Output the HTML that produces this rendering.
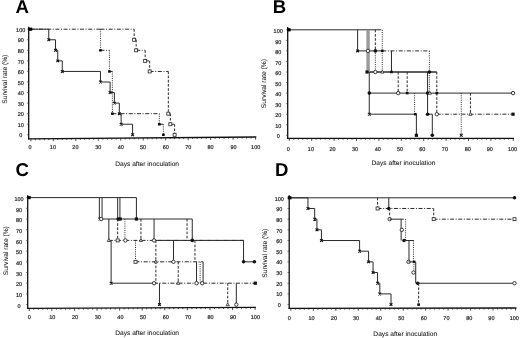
<!DOCTYPE html>
<html><head><meta charset="utf-8"><style>
html,body{margin:0;padding:0;background:#fff;}
svg{display:block;}
text{filter:grayscale(1);text-rendering:geometricPrecision;}
.R{stroke-width:0.14px;}
.t{font-family:"Liberation Sans",sans-serif;font-size:5.5px;fill:#1a1a1a;stroke:#1a1a1a;stroke-width:0.18px;}
.T{font-family:"Liberation Sans",sans-serif;font-size:6.65px;fill:#111;stroke:#111;stroke-width:0.05px;}
.L{font-family:"Liberation Sans",sans-serif;font-size:18.6px;font-weight:bold;fill:#000;}
</style></head><body>
<svg width="520" height="338" viewBox="0 0 520 338">
<rect width="520" height="338" fill="#fff"/>
<g>
<line x1="30.80" y1="29.20" x2="48.78" y2="29.20" stroke="#2a2a2a" stroke-width="1.0" />
<line x1="48.78" y1="29.20" x2="48.78" y2="39.76" stroke="#2a2a2a" stroke-width="1.0" />
<line x1="48.78" y1="39.76" x2="55.52" y2="39.76" stroke="#2a2a2a" stroke-width="1.0" />
<line x1="55.52" y1="39.76" x2="55.52" y2="50.32" stroke="#2a2a2a" stroke-width="1.0" />
<line x1="55.52" y1="50.32" x2="57.76" y2="50.32" stroke="#2a2a2a" stroke-width="1.0" />
<line x1="57.76" y1="50.32" x2="57.76" y2="60.88" stroke="#2a2a2a" stroke-width="1.0" />
<line x1="57.76" y1="60.88" x2="62.26" y2="60.88" stroke="#2a2a2a" stroke-width="1.0" />
<line x1="62.26" y1="60.88" x2="62.26" y2="71.44" stroke="#2a2a2a" stroke-width="1.0" />
<line x1="62.26" y1="71.44" x2="100.46" y2="71.44" stroke="#2a2a2a" stroke-width="1.0" />
<line x1="100.46" y1="71.44" x2="100.46" y2="82.00" stroke="#2a2a2a" stroke-width="1.0" />
<line x1="100.46" y1="82.00" x2="110.12" y2="82.00" stroke="#2a2a2a" stroke-width="1.0" />
<line x1="110.12" y1="82.00" x2="110.12" y2="92.56" stroke="#2a2a2a" stroke-width="1.0" />
<line x1="110.12" y1="92.56" x2="114.39" y2="92.56" stroke="#2a2a2a" stroke-width="1.0" />
<line x1="114.39" y1="92.56" x2="114.39" y2="103.12" stroke="#2a2a2a" stroke-width="1.0" />
<line x1="114.39" y1="103.12" x2="119.33" y2="103.12" stroke="#2a2a2a" stroke-width="1.0" />
<line x1="119.33" y1="103.12" x2="119.33" y2="113.68" stroke="#2a2a2a" stroke-width="1.0" />
<line x1="119.33" y1="113.68" x2="121.13" y2="113.68" stroke="#2a2a2a" stroke-width="1.0" />
<line x1="121.13" y1="113.68" x2="121.13" y2="124.24" stroke="#2a2a2a" stroke-width="1.0" />
<line x1="121.13" y1="124.24" x2="132.59" y2="124.24" stroke="#2a2a2a" stroke-width="1.0" />
<line x1="132.59" y1="124.24" x2="132.59" y2="134.80" stroke="#2a2a2a" stroke-width="1.0" />
<path d="M47.43 38.41L50.13 41.11M50.13 38.41L47.43 41.11" stroke="#111" stroke-width="1.1" fill="none"/>
<path d="M54.17 48.97L56.87 51.67M56.87 48.97L54.17 51.67" stroke="#111" stroke-width="1.1" fill="none"/>
<path d="M56.41 59.53L59.11 62.23M59.11 59.53L56.41 62.23" stroke="#111" stroke-width="1.1" fill="none"/>
<path d="M60.91 70.09L63.61 72.79M63.61 70.09L60.91 72.79" stroke="#111" stroke-width="1.1" fill="none"/>
<path d="M99.11 80.65L101.81 83.35M101.81 80.65L99.11 83.35" stroke="#111" stroke-width="1.1" fill="none"/>
<path d="M108.77 91.21L111.47 93.91M111.47 91.21L108.77 93.91" stroke="#111" stroke-width="1.1" fill="none"/>
<path d="M113.04 101.77L115.74 104.47M115.74 101.77L113.04 104.47" stroke="#111" stroke-width="1.1" fill="none"/>
<path d="M117.98 112.33L120.68 115.03M120.68 112.33L117.98 115.03" stroke="#111" stroke-width="1.1" fill="none"/>
<path d="M119.78 122.89L122.48 125.59M122.48 122.89L119.78 125.59" stroke="#111" stroke-width="1.1" fill="none"/>
<path d="M131.24 133.45L133.94 136.15M133.94 133.45L131.24 136.15" stroke="#111" stroke-width="1.1" fill="none"/>
<line x1="30.80" y1="29.20" x2="100.46" y2="29.20" stroke="#2a2a2a" stroke-width="1.0" stroke-dasharray="4 1.6 1 1.6"/>
<line x1="100.46" y1="29.20" x2="100.46" y2="50.32" stroke="#2a2a2a" stroke-width="1.0" stroke-dasharray="1 1.2"/>
<line x1="100.46" y1="50.32" x2="109.44" y2="50.32" stroke="#2a2a2a" stroke-width="1.0" stroke-dasharray="4 1.6 1 1.6"/>
<line x1="109.44" y1="50.32" x2="109.44" y2="71.44" stroke="#2a2a2a" stroke-width="1.0" stroke-dasharray="1 1.2"/>
<line x1="109.44" y1="71.44" x2="112.37" y2="71.44" stroke="#2a2a2a" stroke-width="1.0" stroke-dasharray="4 1.6 1 1.6"/>
<line x1="112.37" y1="71.44" x2="112.37" y2="113.68" stroke="#2a2a2a" stroke-width="1.0" stroke-dasharray="1 1.2"/>
<line x1="112.37" y1="113.68" x2="159.33" y2="113.68" stroke="#2a2a2a" stroke-width="1.0" stroke-dasharray="4 1.6 1 1.6"/>
<line x1="159.33" y1="113.68" x2="159.33" y2="124.24" stroke="#2a2a2a" stroke-width="1.0" stroke-dasharray="1 1.2"/>
<line x1="159.33" y1="124.24" x2="163.37" y2="124.24" stroke="#2a2a2a" stroke-width="1.0" stroke-dasharray="4 1.6 1 1.6"/>
<line x1="163.37" y1="124.24" x2="163.37" y2="134.80" stroke="#2a2a2a" stroke-width="1.0" stroke-dasharray="1 1.2"/>
<rect x="99.11" y="49.07" width="2.7" height="2.5" fill="#111"/>
<rect x="108.09" y="70.19" width="2.7" height="2.5" fill="#111"/>
<rect x="111.02" y="112.43" width="2.7" height="2.5" fill="#111"/>
<rect x="157.98" y="122.99" width="2.7" height="2.5" fill="#111"/>
<rect x="162.02" y="133.55" width="2.7" height="2.5" fill="#111"/>
<line x1="100.46" y1="29.20" x2="134.16" y2="29.20" stroke="#2a2a2a" stroke-width="1.0" stroke-dasharray="4 1.6 1 1.6"/>
<line x1="134.16" y1="29.20" x2="134.16" y2="39.76" stroke="#2a2a2a" stroke-width="1.0" stroke-dasharray="2.6 1.6"/>
<line x1="134.16" y1="39.76" x2="136.18" y2="39.76" stroke="#2a2a2a" stroke-width="1.0" stroke-dasharray="4 1.6 1 1.6"/>
<line x1="136.18" y1="39.76" x2="136.18" y2="50.32" stroke="#2a2a2a" stroke-width="1.0" stroke-dasharray="2.6 1.6"/>
<line x1="136.18" y1="50.32" x2="145.17" y2="50.32" stroke="#2a2a2a" stroke-width="1.0" stroke-dasharray="4 1.6 1 1.6"/>
<line x1="145.17" y1="50.32" x2="145.17" y2="60.88" stroke="#2a2a2a" stroke-width="1.0" stroke-dasharray="2.6 1.6"/>
<line x1="145.17" y1="60.88" x2="149.67" y2="60.88" stroke="#2a2a2a" stroke-width="1.0" stroke-dasharray="4 1.6 1 1.6"/>
<line x1="149.67" y1="60.88" x2="149.67" y2="71.44" stroke="#2a2a2a" stroke-width="1.0" stroke-dasharray="2.6 1.6"/>
<line x1="149.67" y1="71.44" x2="168.32" y2="71.44" stroke="#2a2a2a" stroke-width="1.0" stroke-dasharray="4 1.6 1 1.6"/>
<line x1="168.32" y1="71.44" x2="168.32" y2="113.68" stroke="#2a2a2a" stroke-width="1.0" stroke-dasharray="2.6 1.6"/>
<line x1="168.32" y1="113.68" x2="170.34" y2="113.68" stroke="#2a2a2a" stroke-width="1.0" stroke-dasharray="4 1.6 1 1.6"/>
<line x1="170.34" y1="113.68" x2="170.34" y2="124.24" stroke="#2a2a2a" stroke-width="1.0" stroke-dasharray="2.6 1.6"/>
<line x1="170.34" y1="124.24" x2="174.61" y2="124.24" stroke="#2a2a2a" stroke-width="1.0" stroke-dasharray="4 1.6 1 1.6"/>
<line x1="174.61" y1="124.24" x2="174.61" y2="134.80" stroke="#2a2a2a" stroke-width="1.0" stroke-dasharray="2.6 1.6"/>
<rect x="132.66" y="38.26" width="3" height="3" fill="#fff" stroke="#222" stroke-width="0.8"/>
<rect x="134.68" y="48.82" width="3" height="3" fill="#fff" stroke="#222" stroke-width="0.8"/>
<rect x="143.67" y="59.38" width="3" height="3" fill="#fff" stroke="#222" stroke-width="0.8"/>
<rect x="148.17" y="69.94" width="3" height="3" fill="#fff" stroke="#222" stroke-width="0.8"/>
<rect x="166.82" y="112.18" width="3" height="3" fill="#fff" stroke="#222" stroke-width="0.8"/>
<rect x="168.84" y="122.74" width="3" height="3" fill="#fff" stroke="#222" stroke-width="0.8"/>
<rect x="173.11" y="133.30" width="3" height="3" fill="#fff" stroke="#222" stroke-width="0.8"/>
<line x1="28.7" y1="26.8" x2="28.7" y2="139.4" stroke="#111" stroke-width="1.3"/>
<line x1="28.099999999999998" y1="138.8" x2="256.3" y2="137.0" stroke="#111" stroke-width="1.3"/>
<line x1="30.85" y1="138.78" x2="30.85" y2="141.38" stroke="#222" stroke-width="0.8"/>
<line x1="35.34" y1="138.75" x2="35.34" y2="140.25" stroke="#222" stroke-width="0.8"/>
<line x1="39.84" y1="138.71" x2="39.84" y2="140.21" stroke="#222" stroke-width="0.8"/>
<line x1="44.33" y1="138.68" x2="44.33" y2="140.18" stroke="#222" stroke-width="0.8"/>
<line x1="48.83" y1="138.64" x2="48.83" y2="140.14" stroke="#222" stroke-width="0.8"/>
<line x1="53.32" y1="138.61" x2="53.32" y2="141.21" stroke="#222" stroke-width="0.8"/>
<line x1="57.81" y1="138.57" x2="57.81" y2="140.07" stroke="#222" stroke-width="0.8"/>
<line x1="62.31" y1="138.53" x2="62.31" y2="140.03" stroke="#222" stroke-width="0.8"/>
<line x1="66.80" y1="138.50" x2="66.80" y2="140.00" stroke="#222" stroke-width="0.8"/>
<line x1="71.30" y1="138.46" x2="71.30" y2="139.96" stroke="#222" stroke-width="0.8"/>
<line x1="75.79" y1="138.43" x2="75.79" y2="141.03" stroke="#222" stroke-width="0.8"/>
<line x1="80.28" y1="138.39" x2="80.28" y2="139.89" stroke="#222" stroke-width="0.8"/>
<line x1="84.78" y1="138.36" x2="84.78" y2="139.86" stroke="#222" stroke-width="0.8"/>
<line x1="89.27" y1="138.32" x2="89.27" y2="139.82" stroke="#222" stroke-width="0.8"/>
<line x1="93.77" y1="138.29" x2="93.77" y2="139.79" stroke="#222" stroke-width="0.8"/>
<line x1="98.26" y1="138.25" x2="98.26" y2="140.85" stroke="#222" stroke-width="0.8"/>
<line x1="102.75" y1="138.21" x2="102.75" y2="139.71" stroke="#222" stroke-width="0.8"/>
<line x1="107.25" y1="138.18" x2="107.25" y2="139.68" stroke="#222" stroke-width="0.8"/>
<line x1="111.74" y1="138.14" x2="111.74" y2="139.64" stroke="#222" stroke-width="0.8"/>
<line x1="116.24" y1="138.11" x2="116.24" y2="139.61" stroke="#222" stroke-width="0.8"/>
<line x1="120.73" y1="138.07" x2="120.73" y2="140.67" stroke="#222" stroke-width="0.8"/>
<line x1="125.22" y1="138.04" x2="125.22" y2="139.54" stroke="#222" stroke-width="0.8"/>
<line x1="129.72" y1="138.00" x2="129.72" y2="139.50" stroke="#222" stroke-width="0.8"/>
<line x1="134.21" y1="137.97" x2="134.21" y2="139.47" stroke="#222" stroke-width="0.8"/>
<line x1="138.71" y1="137.93" x2="138.71" y2="139.43" stroke="#222" stroke-width="0.8"/>
<line x1="143.20" y1="137.89" x2="143.20" y2="140.49" stroke="#222" stroke-width="0.8"/>
<line x1="147.69" y1="137.86" x2="147.69" y2="139.36" stroke="#222" stroke-width="0.8"/>
<line x1="152.19" y1="137.82" x2="152.19" y2="139.32" stroke="#222" stroke-width="0.8"/>
<line x1="156.68" y1="137.79" x2="156.68" y2="139.29" stroke="#222" stroke-width="0.8"/>
<line x1="161.18" y1="137.75" x2="161.18" y2="139.25" stroke="#222" stroke-width="0.8"/>
<line x1="165.67" y1="137.72" x2="165.67" y2="140.32" stroke="#222" stroke-width="0.8"/>
<line x1="170.16" y1="137.68" x2="170.16" y2="139.18" stroke="#222" stroke-width="0.8"/>
<line x1="174.66" y1="137.65" x2="174.66" y2="139.15" stroke="#222" stroke-width="0.8"/>
<line x1="179.15" y1="137.61" x2="179.15" y2="139.11" stroke="#222" stroke-width="0.8"/>
<line x1="183.65" y1="137.57" x2="183.65" y2="139.07" stroke="#222" stroke-width="0.8"/>
<line x1="188.14" y1="137.54" x2="188.14" y2="140.14" stroke="#222" stroke-width="0.8"/>
<line x1="192.63" y1="137.50" x2="192.63" y2="139.00" stroke="#222" stroke-width="0.8"/>
<line x1="197.13" y1="137.47" x2="197.13" y2="138.97" stroke="#222" stroke-width="0.8"/>
<line x1="201.62" y1="137.43" x2="201.62" y2="138.93" stroke="#222" stroke-width="0.8"/>
<line x1="206.12" y1="137.40" x2="206.12" y2="138.90" stroke="#222" stroke-width="0.8"/>
<line x1="210.61" y1="137.36" x2="210.61" y2="139.96" stroke="#222" stroke-width="0.8"/>
<line x1="215.10" y1="137.33" x2="215.10" y2="138.83" stroke="#222" stroke-width="0.8"/>
<line x1="219.60" y1="137.29" x2="219.60" y2="138.79" stroke="#222" stroke-width="0.8"/>
<line x1="224.09" y1="137.25" x2="224.09" y2="138.75" stroke="#222" stroke-width="0.8"/>
<line x1="228.59" y1="137.22" x2="228.59" y2="138.72" stroke="#222" stroke-width="0.8"/>
<line x1="233.08" y1="137.18" x2="233.08" y2="139.78" stroke="#222" stroke-width="0.8"/>
<line x1="237.57" y1="137.15" x2="237.57" y2="138.65" stroke="#222" stroke-width="0.8"/>
<line x1="242.07" y1="137.11" x2="242.07" y2="138.61" stroke="#222" stroke-width="0.8"/>
<line x1="246.56" y1="137.08" x2="246.56" y2="138.58" stroke="#222" stroke-width="0.8"/>
<line x1="251.06" y1="137.04" x2="251.06" y2="138.54" stroke="#222" stroke-width="0.8"/>
<line x1="255.55" y1="137.01" x2="255.55" y2="139.61" stroke="#222" stroke-width="0.8"/>
<line x1="26.90" y1="134.80" x2="28.70" y2="134.80" stroke="#333" stroke-width="0.6"/>
<line x1="26.90" y1="124.24" x2="28.70" y2="124.24" stroke="#333" stroke-width="0.6"/>
<line x1="26.90" y1="113.68" x2="28.70" y2="113.68" stroke="#333" stroke-width="0.6"/>
<line x1="26.90" y1="103.12" x2="28.70" y2="103.12" stroke="#333" stroke-width="0.6"/>
<line x1="26.90" y1="92.56" x2="28.70" y2="92.56" stroke="#333" stroke-width="0.6"/>
<line x1="26.90" y1="82.00" x2="28.70" y2="82.00" stroke="#333" stroke-width="0.6"/>
<line x1="26.90" y1="71.44" x2="28.70" y2="71.44" stroke="#333" stroke-width="0.6"/>
<line x1="26.90" y1="60.88" x2="28.70" y2="60.88" stroke="#333" stroke-width="0.6"/>
<line x1="26.90" y1="50.32" x2="28.70" y2="50.32" stroke="#333" stroke-width="0.6"/>
<line x1="26.90" y1="39.76" x2="28.70" y2="39.76" stroke="#333" stroke-width="0.6"/>
<line x1="26.90" y1="29.20" x2="28.70" y2="29.20" stroke="#333" stroke-width="0.6"/>
<rect x="28.60" y="27.60" width="3.6" height="3.2" fill="#000"/>
</g>
<g>
<line x1="289.20" y1="29.80" x2="380.27" y2="29.80" stroke="#2a2a2a" stroke-width="1.0" />
<line x1="380.27" y1="29.80" x2="382.28" y2="29.80" stroke="#2a2a2a" stroke-width="1.0" stroke-dasharray="1 1.2"/>
<line x1="357.61" y1="50.90" x2="382.28" y2="50.90" stroke="#2a2a2a" stroke-width="1.0" />
<line x1="382.28" y1="50.90" x2="429.39" y2="50.90" stroke="#2a2a2a" stroke-width="1.0" stroke-dasharray="4 1.6 1 1.6"/>
<line x1="367.03" y1="72.00" x2="436.79" y2="72.00" stroke="#2a2a2a" stroke-width="1.3" />
<line x1="369.28" y1="93.10" x2="513.05" y2="93.10" stroke="#2a2a2a" stroke-width="1.0" />
<line x1="369.28" y1="114.20" x2="415.71" y2="114.20" stroke="#2a2a2a" stroke-width="1.0" />
<line x1="427.59" y1="114.20" x2="432.30" y2="114.20" stroke="#2a2a2a" stroke-width="1.0" />
<line x1="436.79" y1="114.20" x2="513.05" y2="114.20" stroke="#2a2a2a" stroke-width="1.0" stroke-dasharray="4 1.6 1 1.6"/>
<line x1="357.61" y1="29.80" x2="357.61" y2="50.90" stroke="#2a2a2a" stroke-width="1.0" />
<rect x="366.36" y="29.80" width="3.4" height="42.20" fill="#9a9a9a"/>
<line x1="369.28" y1="72.00" x2="369.28" y2="114.20" stroke="#2a2a2a" stroke-width="1.0" />
<line x1="375.33" y1="29.80" x2="375.33" y2="50.90" stroke="#2a2a2a" stroke-width="1.0" stroke-dasharray="2.6 1.6"/>
<line x1="375.33" y1="50.90" x2="375.33" y2="72.00" stroke="#2a2a2a" stroke-width="1.0" stroke-dasharray="1 1.2"/>
<line x1="382.28" y1="29.80" x2="382.28" y2="50.90" stroke="#2a2a2a" stroke-width="1.0" stroke-dasharray="1 1.2"/>
<line x1="382.28" y1="50.90" x2="382.28" y2="72.00" stroke="#2a2a2a" stroke-width="1.0" stroke-dasharray="1 1.2"/>
<line x1="391.48" y1="50.90" x2="391.48" y2="72.00" stroke="#2a2a2a" stroke-width="1.0" />
<line x1="398.21" y1="72.00" x2="398.21" y2="93.10" stroke="#2a2a2a" stroke-width="1.0" stroke-dasharray="2.6 1.6"/>
<line x1="407.18" y1="72.00" x2="407.18" y2="93.10" stroke="#2a2a2a" stroke-width="1.0" stroke-dasharray="2.6 1.6"/>
<line x1="414.58" y1="93.10" x2="414.58" y2="114.20" stroke="#2a2a2a" stroke-width="1.0" stroke-dasharray="1 1.2"/>
<line x1="416.38" y1="114.20" x2="416.38" y2="135.30" stroke="#2a2a2a" stroke-width="1.0" />
<line x1="427.59" y1="72.00" x2="427.59" y2="114.20" stroke="#2a2a2a" stroke-width="1.0" />
<line x1="429.39" y1="50.90" x2="429.39" y2="93.10" stroke="#2a2a2a" stroke-width="1.0" stroke-dasharray="1 1.2"/>
<line x1="432.30" y1="114.20" x2="432.30" y2="135.30" stroke="#2a2a2a" stroke-width="1.0" />
<line x1="436.79" y1="72.00" x2="436.79" y2="114.20" stroke="#2a2a2a" stroke-width="1.0" stroke-dasharray="2.6 1.6"/>
<line x1="461.24" y1="93.10" x2="461.24" y2="135.30" stroke="#2a2a2a" stroke-width="1.0" stroke-dasharray="1 1.2"/>
<line x1="470.43" y1="93.10" x2="470.43" y2="114.20" stroke="#2a2a2a" stroke-width="1.0" stroke-dasharray="2.6 1.6"/>
<path d="M356.26 49.55L358.96 52.25M358.96 49.55L356.26 52.25" stroke="#111" stroke-width="1.1" fill="none"/>
<circle cx="367.93" cy="50.90" r="1.7" fill="#fff" stroke="#222" stroke-width="0.9"/>
<circle cx="375.33" cy="50.90" r="1.8" fill="#111"/>
<rect x="380.93" y="49.65" width="2.7" height="2.5" fill="#111"/>
<rect x="365.43" y="70.40" width="3.2" height="3.2" fill="#111"/>
<circle cx="375.33" cy="72.00" r="1.7" fill="#fff" stroke="#222" stroke-width="0.9"/>
<path d="M382.28 70.20L383.88 73.10L380.68 73.10Z" fill="#fff" stroke="#222" stroke-width="0.8"/>
<rect x="390.13" y="70.75" width="2.7" height="2.5" fill="#111"/>
<circle cx="429.39" cy="72.00" r="1.8" fill="#111"/>
<circle cx="369.28" cy="93.10" r="1.8" fill="#111"/>
<circle cx="398.21" cy="93.10" r="1.7" fill="#fff" stroke="#222" stroke-width="0.9"/>
<rect x="405.83" y="91.85" width="2.7" height="2.5" fill="#111"/>
<circle cx="427.59" cy="93.10" r="1.8" fill="#111"/>
<path d="M429.84 91.30L431.44 94.20L428.24 94.20Z" fill="#fff" stroke="#222" stroke-width="0.8"/>
<rect x="435.44" y="91.85" width="2.7" height="2.5" fill="#111"/>
<circle cx="513.05" cy="93.10" r="1.7" fill="#fff" stroke="#222" stroke-width="0.9"/>
<path d="M367.93 112.85L370.63 115.55M370.63 112.85L367.93 115.55" stroke="#111" stroke-width="1.1" fill="none"/>
<rect x="413.91" y="112.95" width="2.7" height="2.5" fill="#111"/>
<circle cx="427.59" cy="114.20" r="1.8" fill="#111"/>
<circle cx="436.79" cy="114.20" r="1.7" fill="#fff" stroke="#222" stroke-width="0.9"/>
<path d="M470.43 112.40L472.03 115.30L468.83 115.30Z" fill="#fff" stroke="#222" stroke-width="0.8"/>
<rect x="511.45" y="112.60" width="3.2" height="3.2" fill="#111"/>
<rect x="414.78" y="133.70" width="3.2" height="3.2" fill="#111"/>
<circle cx="432.30" cy="135.30" r="1.8" fill="#111"/>
<path d="M459.89 133.95L462.59 136.65M462.59 133.95L459.89 136.65" stroke="#111" stroke-width="1.1" fill="none"/>
<line x1="287.7" y1="27.0" x2="287.7" y2="138.9" stroke="#111" stroke-width="1.3"/>
<line x1="287.09999999999997" y1="138.3" x2="514.0" y2="138.3" stroke="#111" stroke-width="1.3"/>
<line x1="289.30" y1="138.30" x2="289.30" y2="140.90" stroke="#222" stroke-width="0.8"/>
<line x1="293.78" y1="138.30" x2="293.78" y2="139.80" stroke="#222" stroke-width="0.8"/>
<line x1="298.26" y1="138.30" x2="298.26" y2="139.80" stroke="#222" stroke-width="0.8"/>
<line x1="302.74" y1="138.30" x2="302.74" y2="139.80" stroke="#222" stroke-width="0.8"/>
<line x1="307.22" y1="138.30" x2="307.22" y2="139.80" stroke="#222" stroke-width="0.8"/>
<line x1="311.70" y1="138.30" x2="311.70" y2="140.90" stroke="#222" stroke-width="0.8"/>
<line x1="316.18" y1="138.30" x2="316.18" y2="139.80" stroke="#222" stroke-width="0.8"/>
<line x1="320.66" y1="138.30" x2="320.66" y2="139.80" stroke="#222" stroke-width="0.8"/>
<line x1="325.14" y1="138.30" x2="325.14" y2="139.80" stroke="#222" stroke-width="0.8"/>
<line x1="329.62" y1="138.30" x2="329.62" y2="139.80" stroke="#222" stroke-width="0.8"/>
<line x1="334.10" y1="138.30" x2="334.10" y2="140.90" stroke="#222" stroke-width="0.8"/>
<line x1="338.58" y1="138.30" x2="338.58" y2="139.80" stroke="#222" stroke-width="0.8"/>
<line x1="343.06" y1="138.30" x2="343.06" y2="139.80" stroke="#222" stroke-width="0.8"/>
<line x1="347.54" y1="138.30" x2="347.54" y2="139.80" stroke="#222" stroke-width="0.8"/>
<line x1="352.02" y1="138.30" x2="352.02" y2="139.80" stroke="#222" stroke-width="0.8"/>
<line x1="356.50" y1="138.30" x2="356.50" y2="140.90" stroke="#222" stroke-width="0.8"/>
<line x1="360.98" y1="138.30" x2="360.98" y2="139.80" stroke="#222" stroke-width="0.8"/>
<line x1="365.46" y1="138.30" x2="365.46" y2="139.80" stroke="#222" stroke-width="0.8"/>
<line x1="369.94" y1="138.30" x2="369.94" y2="139.80" stroke="#222" stroke-width="0.8"/>
<line x1="374.42" y1="138.30" x2="374.42" y2="139.80" stroke="#222" stroke-width="0.8"/>
<line x1="378.90" y1="138.30" x2="378.90" y2="140.90" stroke="#222" stroke-width="0.8"/>
<line x1="383.38" y1="138.30" x2="383.38" y2="139.80" stroke="#222" stroke-width="0.8"/>
<line x1="387.86" y1="138.30" x2="387.86" y2="139.80" stroke="#222" stroke-width="0.8"/>
<line x1="392.34" y1="138.30" x2="392.34" y2="139.80" stroke="#222" stroke-width="0.8"/>
<line x1="396.82" y1="138.30" x2="396.82" y2="139.80" stroke="#222" stroke-width="0.8"/>
<line x1="401.30" y1="138.30" x2="401.30" y2="140.90" stroke="#222" stroke-width="0.8"/>
<line x1="405.78" y1="138.30" x2="405.78" y2="139.80" stroke="#222" stroke-width="0.8"/>
<line x1="410.26" y1="138.30" x2="410.26" y2="139.80" stroke="#222" stroke-width="0.8"/>
<line x1="414.74" y1="138.30" x2="414.74" y2="139.80" stroke="#222" stroke-width="0.8"/>
<line x1="419.22" y1="138.30" x2="419.22" y2="139.80" stroke="#222" stroke-width="0.8"/>
<line x1="423.70" y1="138.30" x2="423.70" y2="140.90" stroke="#222" stroke-width="0.8"/>
<line x1="428.18" y1="138.30" x2="428.18" y2="139.80" stroke="#222" stroke-width="0.8"/>
<line x1="432.66" y1="138.30" x2="432.66" y2="139.80" stroke="#222" stroke-width="0.8"/>
<line x1="437.14" y1="138.30" x2="437.14" y2="139.80" stroke="#222" stroke-width="0.8"/>
<line x1="441.62" y1="138.30" x2="441.62" y2="139.80" stroke="#222" stroke-width="0.8"/>
<line x1="446.10" y1="138.30" x2="446.10" y2="140.90" stroke="#222" stroke-width="0.8"/>
<line x1="450.58" y1="138.30" x2="450.58" y2="139.80" stroke="#222" stroke-width="0.8"/>
<line x1="455.06" y1="138.30" x2="455.06" y2="139.80" stroke="#222" stroke-width="0.8"/>
<line x1="459.54" y1="138.30" x2="459.54" y2="139.80" stroke="#222" stroke-width="0.8"/>
<line x1="464.02" y1="138.30" x2="464.02" y2="139.80" stroke="#222" stroke-width="0.8"/>
<line x1="468.50" y1="138.30" x2="468.50" y2="140.90" stroke="#222" stroke-width="0.8"/>
<line x1="472.98" y1="138.30" x2="472.98" y2="139.80" stroke="#222" stroke-width="0.8"/>
<line x1="477.46" y1="138.30" x2="477.46" y2="139.80" stroke="#222" stroke-width="0.8"/>
<line x1="481.94" y1="138.30" x2="481.94" y2="139.80" stroke="#222" stroke-width="0.8"/>
<line x1="486.42" y1="138.30" x2="486.42" y2="139.80" stroke="#222" stroke-width="0.8"/>
<line x1="490.90" y1="138.30" x2="490.90" y2="140.90" stroke="#222" stroke-width="0.8"/>
<line x1="495.38" y1="138.30" x2="495.38" y2="139.80" stroke="#222" stroke-width="0.8"/>
<line x1="499.86" y1="138.30" x2="499.86" y2="139.80" stroke="#222" stroke-width="0.8"/>
<line x1="504.34" y1="138.30" x2="504.34" y2="139.80" stroke="#222" stroke-width="0.8"/>
<line x1="508.82" y1="138.30" x2="508.82" y2="139.80" stroke="#222" stroke-width="0.8"/>
<line x1="513.30" y1="138.30" x2="513.30" y2="140.90" stroke="#222" stroke-width="0.8"/>
<line x1="285.90" y1="135.30" x2="287.70" y2="135.30" stroke="#333" stroke-width="0.6"/>
<line x1="285.90" y1="124.75" x2="287.70" y2="124.75" stroke="#333" stroke-width="0.6"/>
<line x1="285.90" y1="114.20" x2="287.70" y2="114.20" stroke="#333" stroke-width="0.6"/>
<line x1="285.90" y1="103.65" x2="287.70" y2="103.65" stroke="#333" stroke-width="0.6"/>
<line x1="285.90" y1="93.10" x2="287.70" y2="93.10" stroke="#333" stroke-width="0.6"/>
<line x1="285.90" y1="82.55" x2="287.70" y2="82.55" stroke="#333" stroke-width="0.6"/>
<line x1="285.90" y1="72.00" x2="287.70" y2="72.00" stroke="#333" stroke-width="0.6"/>
<line x1="285.90" y1="61.45" x2="287.70" y2="61.45" stroke="#333" stroke-width="0.6"/>
<line x1="285.90" y1="50.90" x2="287.70" y2="50.90" stroke="#333" stroke-width="0.6"/>
<line x1="285.90" y1="40.35" x2="287.70" y2="40.35" stroke="#333" stroke-width="0.6"/>
<line x1="285.90" y1="29.80" x2="287.70" y2="29.80" stroke="#333" stroke-width="0.6"/>
<rect x="287.00" y="28.20" width="3.6" height="3.2" fill="#000"/>
</g>
<g>
<line x1="29.30" y1="197.60" x2="136.42" y2="197.60" stroke="#2a2a2a" stroke-width="1.0" />
<line x1="99.36" y1="197.60" x2="99.36" y2="219.00" stroke="#2a2a2a" stroke-width="1.0" />
<line x1="102.07" y1="197.60" x2="102.07" y2="219.00" stroke="#2a2a2a" stroke-width="1.0" />
<line x1="117.67" y1="197.60" x2="117.67" y2="219.00" stroke="#2a2a2a" stroke-width="1.0" />
<line x1="119.93" y1="197.60" x2="119.93" y2="219.00" stroke="#2a2a2a" stroke-width="1.0" />
<line x1="136.42" y1="197.60" x2="136.42" y2="219.00" stroke="#2a2a2a" stroke-width="1.0" />
<line x1="99.36" y1="219.00" x2="192.25" y2="219.00" stroke="#2a2a2a" stroke-width="1.0" />
<line x1="108.85" y1="219.00" x2="108.85" y2="240.40" stroke="#2a2a2a" stroke-width="1.0" />
<line x1="111.11" y1="240.40" x2="111.11" y2="283.20" stroke="#2a2a2a" stroke-width="1.0" />
<line x1="117.67" y1="219.00" x2="117.67" y2="240.40" stroke="#2a2a2a" stroke-width="1.0" stroke-dasharray="2.6 1.6"/>
<line x1="124.90" y1="219.00" x2="124.90" y2="240.40" stroke="#2a2a2a" stroke-width="1.0" stroke-dasharray="1 1.2"/>
<line x1="140.94" y1="219.00" x2="140.94" y2="240.40" stroke="#2a2a2a" stroke-width="1.0" stroke-dasharray="2.6 1.6"/>
<line x1="154.05" y1="219.00" x2="154.05" y2="240.40" stroke="#2a2a2a" stroke-width="1.0" />
<line x1="187.05" y1="219.00" x2="187.05" y2="240.40" stroke="#2a2a2a" stroke-width="1.0" stroke-dasharray="2.6 1.6"/>
<line x1="192.25" y1="219.00" x2="192.25" y2="240.40" stroke="#2a2a2a" stroke-width="1.0" />
<line x1="108.85" y1="240.40" x2="243.55" y2="240.40" stroke="#2a2a2a" stroke-width="1.0" stroke-dasharray="4 1.6 1 1.6"/>
<line x1="154.05" y1="240.40" x2="243.55" y2="240.40" stroke="#2a2a2a" stroke-width="1.0" />
<line x1="135.52" y1="240.40" x2="135.52" y2="261.80" stroke="#2a2a2a" stroke-width="1.0" stroke-dasharray="1 1.2"/>
<line x1="155.86" y1="240.40" x2="155.86" y2="283.20" stroke="#2a2a2a" stroke-width="1.0" stroke-dasharray="2.6 1.6"/>
<line x1="173.49" y1="240.40" x2="173.49" y2="261.80" stroke="#2a2a2a" stroke-width="1.0" />
<line x1="194.96" y1="240.40" x2="194.96" y2="261.80" stroke="#2a2a2a" stroke-width="1.0" stroke-dasharray="2.6 1.6"/>
<line x1="243.55" y1="240.40" x2="243.55" y2="261.80" stroke="#2a2a2a" stroke-width="1.0" />
<line x1="135.52" y1="261.80" x2="203.09" y2="261.80" stroke="#2a2a2a" stroke-width="1.0" stroke-dasharray="4 1.6 1 1.6"/>
<line x1="243.55" y1="261.80" x2="254.40" y2="261.80" stroke="#2a2a2a" stroke-width="1.0" />
<line x1="178.23" y1="261.80" x2="178.23" y2="283.20" stroke="#2a2a2a" stroke-width="1.0" stroke-dasharray="2.6 1.6"/>
<line x1="196.54" y1="261.80" x2="196.54" y2="283.20" stroke="#2a2a2a" stroke-width="1.0" />
<line x1="200.16" y1="261.80" x2="200.16" y2="283.20" stroke="#2a2a2a" stroke-width="1.0" stroke-dasharray="1 1.2"/>
<line x1="203.09" y1="261.80" x2="203.09" y2="283.20" stroke="#2a2a2a" stroke-width="1.0" />
<line x1="111.11" y1="283.20" x2="154.05" y2="283.20" stroke="#2a2a2a" stroke-width="1.0" />
<line x1="154.05" y1="283.20" x2="255.30" y2="283.20" stroke="#2a2a2a" stroke-width="1.0" stroke-dasharray="4 1.6 1 1.6"/>
<line x1="159.48" y1="283.20" x2="159.48" y2="304.60" stroke="#2a2a2a" stroke-width="1.0" />
<line x1="227.73" y1="283.20" x2="227.73" y2="304.60" stroke="#2a2a2a" stroke-width="1.0" stroke-dasharray="2.6 1.6"/>
<line x1="236.32" y1="283.20" x2="236.32" y2="304.60" stroke="#2a2a2a" stroke-width="1.0" />
<path d="M98.46 217.65L101.16 220.35M101.16 217.65L98.46 220.35" stroke="#111" stroke-width="1.1" fill="none"/>
<circle cx="101.17" cy="219.00" r="1.7" fill="#fff" stroke="#222" stroke-width="0.9"/>
<circle cx="118.12" cy="219.00" r="1.8" fill="#111"/>
<rect x="118.55" y="217.40" width="3.2" height="3.2" fill="#111"/>
<rect x="134.82" y="217.40" width="3.2" height="3.2" fill="#111"/>
<path d="M108.85 238.60L110.45 241.50L107.25 241.50Z" fill="#fff" stroke="#222" stroke-width="0.8"/>
<rect x="116.17" y="238.90" width="3" height="3" fill="#fff" stroke="#222" stroke-width="0.8"/>
<circle cx="125.35" cy="240.40" r="1.7" fill="#fff" stroke="#222" stroke-width="0.9"/>
<path d="M140.94 238.60L142.54 241.50L139.34 241.50Z" fill="#fff" stroke="#222" stroke-width="0.8"/>
<circle cx="154.05" cy="240.40" r="1.7" fill="#fff" stroke="#222" stroke-width="0.9"/>
<circle cx="192.25" cy="240.40" r="1.8" fill="#111"/>
<rect x="134.02" y="260.30" width="3" height="3" fill="#fff" stroke="#222" stroke-width="0.8"/>
<path d="M155.86 260.00L157.46 262.90L154.26 262.90Z" fill="#fff" stroke="#222" stroke-width="0.8"/>
<circle cx="173.49" cy="261.80" r="1.7" fill="#fff" stroke="#222" stroke-width="0.9"/>
<circle cx="243.55" cy="261.80" r="1.8" fill="#111"/>
<circle cx="254.40" cy="261.80" r="1.8" fill="#111"/>
<path d="M109.76 281.85L112.46 284.55M112.46 281.85L109.76 284.55" stroke="#111" stroke-width="1.1" fill="none"/>
<circle cx="154.05" cy="283.20" r="1.7" fill="#fff" stroke="#222" stroke-width="0.9"/>
<path d="M178.23 281.40L179.83 284.30L176.63 284.30Z" fill="#fff" stroke="#222" stroke-width="0.8"/>
<circle cx="196.54" cy="283.20" r="1.7" fill="#fff" stroke="#222" stroke-width="0.9"/>
<circle cx="202.19" cy="283.20" r="1.7" fill="#fff" stroke="#222" stroke-width="0.9"/>
<rect x="253.70" y="281.60" width="3.2" height="3.2" fill="#111"/>
<path d="M158.13 303.25L160.83 305.95M160.83 303.25L158.13 305.95" stroke="#111" stroke-width="1.1" fill="none"/>
<path d="M227.73 302.80L229.33 305.70L226.13 305.70Z" fill="#fff" stroke="#222" stroke-width="0.8"/>
<circle cx="236.32" cy="304.60" r="1.7" fill="#fff" stroke="#222" stroke-width="0.9"/>
<line x1="27.7" y1="195.3" x2="27.7" y2="309.0" stroke="#111" stroke-width="1.3"/>
<line x1="27.099999999999998" y1="308.4" x2="256.0" y2="307.3" stroke="#111" stroke-width="1.3"/>
<line x1="29.30" y1="308.39" x2="29.30" y2="310.99" stroke="#222" stroke-width="0.8"/>
<line x1="33.82" y1="308.37" x2="33.82" y2="309.87" stroke="#222" stroke-width="0.8"/>
<line x1="38.33" y1="308.35" x2="38.33" y2="309.85" stroke="#222" stroke-width="0.8"/>
<line x1="42.85" y1="308.33" x2="42.85" y2="309.83" stroke="#222" stroke-width="0.8"/>
<line x1="47.36" y1="308.31" x2="47.36" y2="309.81" stroke="#222" stroke-width="0.8"/>
<line x1="51.88" y1="308.28" x2="51.88" y2="310.88" stroke="#222" stroke-width="0.8"/>
<line x1="56.40" y1="308.26" x2="56.40" y2="309.76" stroke="#222" stroke-width="0.8"/>
<line x1="60.91" y1="308.24" x2="60.91" y2="309.74" stroke="#222" stroke-width="0.8"/>
<line x1="65.43" y1="308.22" x2="65.43" y2="309.72" stroke="#222" stroke-width="0.8"/>
<line x1="69.94" y1="308.20" x2="69.94" y2="309.70" stroke="#222" stroke-width="0.8"/>
<line x1="74.46" y1="308.17" x2="74.46" y2="310.77" stroke="#222" stroke-width="0.8"/>
<line x1="78.98" y1="308.15" x2="78.98" y2="309.65" stroke="#222" stroke-width="0.8"/>
<line x1="83.49" y1="308.13" x2="83.49" y2="309.63" stroke="#222" stroke-width="0.8"/>
<line x1="88.01" y1="308.11" x2="88.01" y2="309.61" stroke="#222" stroke-width="0.8"/>
<line x1="92.52" y1="308.09" x2="92.52" y2="309.59" stroke="#222" stroke-width="0.8"/>
<line x1="97.04" y1="308.07" x2="97.04" y2="310.67" stroke="#222" stroke-width="0.8"/>
<line x1="101.56" y1="308.04" x2="101.56" y2="309.54" stroke="#222" stroke-width="0.8"/>
<line x1="106.07" y1="308.02" x2="106.07" y2="309.52" stroke="#222" stroke-width="0.8"/>
<line x1="110.59" y1="308.00" x2="110.59" y2="309.50" stroke="#222" stroke-width="0.8"/>
<line x1="115.10" y1="307.98" x2="115.10" y2="309.48" stroke="#222" stroke-width="0.8"/>
<line x1="119.62" y1="307.96" x2="119.62" y2="310.56" stroke="#222" stroke-width="0.8"/>
<line x1="124.14" y1="307.94" x2="124.14" y2="309.44" stroke="#222" stroke-width="0.8"/>
<line x1="128.65" y1="307.91" x2="128.65" y2="309.41" stroke="#222" stroke-width="0.8"/>
<line x1="133.17" y1="307.89" x2="133.17" y2="309.39" stroke="#222" stroke-width="0.8"/>
<line x1="137.68" y1="307.87" x2="137.68" y2="309.37" stroke="#222" stroke-width="0.8"/>
<line x1="142.20" y1="307.85" x2="142.20" y2="310.45" stroke="#222" stroke-width="0.8"/>
<line x1="146.72" y1="307.83" x2="146.72" y2="309.33" stroke="#222" stroke-width="0.8"/>
<line x1="151.23" y1="307.80" x2="151.23" y2="309.30" stroke="#222" stroke-width="0.8"/>
<line x1="155.75" y1="307.78" x2="155.75" y2="309.28" stroke="#222" stroke-width="0.8"/>
<line x1="160.26" y1="307.76" x2="160.26" y2="309.26" stroke="#222" stroke-width="0.8"/>
<line x1="164.78" y1="307.74" x2="164.78" y2="310.34" stroke="#222" stroke-width="0.8"/>
<line x1="169.30" y1="307.72" x2="169.30" y2="309.22" stroke="#222" stroke-width="0.8"/>
<line x1="173.81" y1="307.70" x2="173.81" y2="309.20" stroke="#222" stroke-width="0.8"/>
<line x1="178.33" y1="307.67" x2="178.33" y2="309.17" stroke="#222" stroke-width="0.8"/>
<line x1="182.84" y1="307.65" x2="182.84" y2="309.15" stroke="#222" stroke-width="0.8"/>
<line x1="187.36" y1="307.63" x2="187.36" y2="310.23" stroke="#222" stroke-width="0.8"/>
<line x1="191.88" y1="307.61" x2="191.88" y2="309.11" stroke="#222" stroke-width="0.8"/>
<line x1="196.39" y1="307.59" x2="196.39" y2="309.09" stroke="#222" stroke-width="0.8"/>
<line x1="200.91" y1="307.57" x2="200.91" y2="309.07" stroke="#222" stroke-width="0.8"/>
<line x1="205.42" y1="307.54" x2="205.42" y2="309.04" stroke="#222" stroke-width="0.8"/>
<line x1="209.94" y1="307.52" x2="209.94" y2="310.12" stroke="#222" stroke-width="0.8"/>
<line x1="214.46" y1="307.50" x2="214.46" y2="309.00" stroke="#222" stroke-width="0.8"/>
<line x1="218.97" y1="307.48" x2="218.97" y2="308.98" stroke="#222" stroke-width="0.8"/>
<line x1="223.49" y1="307.46" x2="223.49" y2="308.96" stroke="#222" stroke-width="0.8"/>
<line x1="228.00" y1="307.43" x2="228.00" y2="308.93" stroke="#222" stroke-width="0.8"/>
<line x1="232.52" y1="307.41" x2="232.52" y2="310.01" stroke="#222" stroke-width="0.8"/>
<line x1="237.04" y1="307.39" x2="237.04" y2="308.89" stroke="#222" stroke-width="0.8"/>
<line x1="241.55" y1="307.37" x2="241.55" y2="308.87" stroke="#222" stroke-width="0.8"/>
<line x1="246.07" y1="307.35" x2="246.07" y2="308.85" stroke="#222" stroke-width="0.8"/>
<line x1="250.58" y1="307.33" x2="250.58" y2="308.83" stroke="#222" stroke-width="0.8"/>
<line x1="255.10" y1="307.30" x2="255.10" y2="309.90" stroke="#222" stroke-width="0.8"/>
<line x1="25.90" y1="304.60" x2="27.70" y2="304.60" stroke="#333" stroke-width="0.6"/>
<line x1="25.90" y1="293.90" x2="27.70" y2="293.90" stroke="#333" stroke-width="0.6"/>
<line x1="25.90" y1="283.20" x2="27.70" y2="283.20" stroke="#333" stroke-width="0.6"/>
<line x1="25.90" y1="272.50" x2="27.70" y2="272.50" stroke="#333" stroke-width="0.6"/>
<line x1="25.90" y1="261.80" x2="27.70" y2="261.80" stroke="#333" stroke-width="0.6"/>
<line x1="25.90" y1="251.10" x2="27.70" y2="251.10" stroke="#333" stroke-width="0.6"/>
<line x1="25.90" y1="240.40" x2="27.70" y2="240.40" stroke="#333" stroke-width="0.6"/>
<line x1="25.90" y1="229.70" x2="27.70" y2="229.70" stroke="#333" stroke-width="0.6"/>
<line x1="25.90" y1="219.00" x2="27.70" y2="219.00" stroke="#333" stroke-width="0.6"/>
<line x1="25.90" y1="208.30" x2="27.70" y2="208.30" stroke="#333" stroke-width="0.6"/>
<line x1="25.90" y1="197.60" x2="27.70" y2="197.60" stroke="#333" stroke-width="0.6"/>
<rect x="27.10" y="196.00" width="3.6" height="3.2" fill="#000"/>
</g>
<g>
<line x1="290.00" y1="197.80" x2="514.50" y2="197.80" stroke="#2a2a2a" stroke-width="1.0" />
<circle cx="514.50" cy="197.80" r="1.8" fill="#111"/>
<line x1="290.00" y1="197.80" x2="307.96" y2="197.80" stroke="#2a2a2a" stroke-width="1.0" />
<line x1="307.96" y1="197.80" x2="307.96" y2="208.48" stroke="#2a2a2a" stroke-width="1.0" />
<line x1="307.96" y1="208.48" x2="314.69" y2="208.48" stroke="#2a2a2a" stroke-width="1.0" />
<line x1="314.69" y1="208.48" x2="314.69" y2="219.16" stroke="#2a2a2a" stroke-width="1.0" />
<line x1="314.69" y1="219.16" x2="316.94" y2="219.16" stroke="#2a2a2a" stroke-width="1.0" />
<line x1="316.94" y1="219.16" x2="316.94" y2="229.84" stroke="#2a2a2a" stroke-width="1.0" />
<line x1="316.94" y1="229.84" x2="321.43" y2="229.84" stroke="#2a2a2a" stroke-width="1.0" />
<line x1="321.43" y1="229.84" x2="321.43" y2="240.52" stroke="#2a2a2a" stroke-width="1.0" />
<line x1="321.43" y1="240.52" x2="359.60" y2="240.52" stroke="#2a2a2a" stroke-width="1.0" />
<line x1="359.60" y1="240.52" x2="359.60" y2="251.20" stroke="#2a2a2a" stroke-width="1.0" />
<line x1="359.60" y1="251.20" x2="368.57" y2="251.20" stroke="#2a2a2a" stroke-width="1.0" />
<line x1="368.57" y1="251.20" x2="368.57" y2="261.88" stroke="#2a2a2a" stroke-width="1.0" />
<line x1="368.57" y1="261.88" x2="373.06" y2="261.88" stroke="#2a2a2a" stroke-width="1.0" />
<line x1="373.06" y1="261.88" x2="373.06" y2="272.56" stroke="#2a2a2a" stroke-width="1.0" />
<line x1="373.06" y1="272.56" x2="377.56" y2="272.56" stroke="#2a2a2a" stroke-width="1.0" />
<line x1="377.56" y1="272.56" x2="377.56" y2="283.24" stroke="#2a2a2a" stroke-width="1.0" />
<line x1="377.56" y1="283.24" x2="379.80" y2="283.24" stroke="#2a2a2a" stroke-width="1.0" />
<line x1="379.80" y1="283.24" x2="379.80" y2="293.92" stroke="#2a2a2a" stroke-width="1.0" />
<line x1="379.80" y1="293.92" x2="391.02" y2="293.92" stroke="#2a2a2a" stroke-width="1.0" />
<line x1="391.02" y1="293.92" x2="391.02" y2="304.60" stroke="#2a2a2a" stroke-width="1.0" />
<path d="M306.61 207.13L309.31 209.83M309.31 207.13L306.61 209.83" stroke="#111" stroke-width="1.1" fill="none"/>
<path d="M313.34 217.81L316.05 220.51M316.05 217.81L313.34 220.51" stroke="#111" stroke-width="1.1" fill="none"/>
<path d="M315.59 228.49L318.29 231.19M318.29 228.49L315.59 231.19" stroke="#111" stroke-width="1.1" fill="none"/>
<path d="M320.08 239.17L322.78 241.87M322.78 239.17L320.08 241.87" stroke="#111" stroke-width="1.1" fill="none"/>
<path d="M358.25 249.85L360.95 252.55M360.95 249.85L358.25 252.55" stroke="#111" stroke-width="1.1" fill="none"/>
<path d="M367.22 260.53L369.93 263.23M369.93 260.53L367.22 263.23" stroke="#111" stroke-width="1.1" fill="none"/>
<path d="M371.71 271.21L374.42 273.91M374.42 271.21L371.71 273.91" stroke="#111" stroke-width="1.1" fill="none"/>
<path d="M376.20 281.89L378.91 284.59M378.91 281.89L376.20 284.59" stroke="#111" stroke-width="1.1" fill="none"/>
<path d="M378.45 292.57L381.15 295.27M381.15 292.57L378.45 295.27" stroke="#111" stroke-width="1.1" fill="none"/>
<path d="M389.67 303.25L392.38 305.95M392.38 303.25L389.67 305.95" stroke="#111" stroke-width="1.1" fill="none"/>
<line x1="377.56" y1="197.80" x2="377.56" y2="208.48" stroke="#2a2a2a" stroke-width="1.0" stroke-dasharray="2.6 1.6"/>
<line x1="377.56" y1="208.48" x2="433.68" y2="208.48" stroke="#2a2a2a" stroke-width="1.0" stroke-dasharray="4 1.6 1 1.6"/>
<line x1="433.68" y1="208.48" x2="433.68" y2="219.16" stroke="#2a2a2a" stroke-width="1.0" stroke-dasharray="2.6 1.6"/>
<line x1="433.68" y1="219.16" x2="514.50" y2="219.16" stroke="#2a2a2a" stroke-width="1.0" stroke-dasharray="4 1.6 1 1.6"/>
<rect x="376.06" y="206.98" width="3" height="3" fill="#fff" stroke="#222" stroke-width="0.8"/>
<rect x="432.18" y="217.66" width="3" height="3" fill="#fff" stroke="#222" stroke-width="0.8"/>
<rect x="513.00" y="217.66" width="3" height="3" fill="#fff" stroke="#222" stroke-width="0.8"/>
<line x1="388.78" y1="197.80" x2="388.78" y2="208.48" stroke="#2a2a2a" stroke-width="1.0" />
<circle cx="388.78" cy="208.48" r="1.8" fill="#111"/>
<line x1="389.68" y1="208.48" x2="389.68" y2="219.16" stroke="#2a2a2a" stroke-width="1.0" stroke-dasharray="2.6 1.6"/>
<circle cx="389.68" cy="219.16" r="1.7" fill="#fff" stroke="#222" stroke-width="0.9"/>
<line x1="389.68" y1="219.16" x2="401.13" y2="219.16" stroke="#2a2a2a" stroke-width="1.0" />
<line x1="401.13" y1="219.16" x2="405.62" y2="219.16" stroke="#2a2a2a" stroke-width="1.0" stroke-dasharray="2.6 1.6"/>
<line x1="401.13" y1="219.16" x2="401.13" y2="240.52" stroke="#2a2a2a" stroke-width="1.0" />
<line x1="405.62" y1="219.16" x2="405.62" y2="240.52" stroke="#2a2a2a" stroke-width="1.0" stroke-dasharray="1 1.2"/>
<circle cx="401.80" cy="229.84" r="1.7" fill="#fff" stroke="#222" stroke-width="0.9"/>
<circle cx="404.05" cy="240.52" r="1.8" fill="#111"/>
<line x1="404.05" y1="240.52" x2="413.92" y2="240.52" stroke="#2a2a2a" stroke-width="1.0" />
<line x1="408.99" y1="240.52" x2="408.99" y2="261.88" stroke="#2a2a2a" stroke-width="1.0" />
<line x1="413.48" y1="240.52" x2="413.48" y2="261.88" stroke="#2a2a2a" stroke-width="1.0" stroke-dasharray="1 1.2"/>
<circle cx="408.54" cy="261.88" r="1.7" fill="#fff" stroke="#222" stroke-width="0.9"/>
<line x1="408.54" y1="261.88" x2="414.60" y2="261.88" stroke="#2a2a2a" stroke-width="1.0" />
<rect x="412.80" y="260.63" width="2.7" height="2.5" fill="#111"/>
<line x1="415.72" y1="261.88" x2="415.72" y2="283.24" stroke="#2a2a2a" stroke-width="1.0" />
<line x1="413.92" y1="261.88" x2="413.92" y2="272.56" stroke="#2a2a2a" stroke-width="1.0" stroke-dasharray="1 1.2"/>
<circle cx="413.48" cy="272.56" r="1.7" fill="#fff" stroke="#222" stroke-width="0.9"/>
<circle cx="417.74" cy="283.24" r="1.8" fill="#111"/>
<line x1="417.74" y1="283.24" x2="514.50" y2="283.24" stroke="#2a2a2a" stroke-width="1.0" />
<circle cx="514.50" cy="283.24" r="1.7" fill="#fff" stroke="#222" stroke-width="0.9"/>
<line x1="418.64" y1="283.24" x2="418.64" y2="304.60" stroke="#2a2a2a" stroke-width="1.0" stroke-dasharray="2.6 1.6"/>
<rect x="417.29" y="303.35" width="2.7" height="2.5" fill="#111"/>
<line x1="289.2" y1="195.3" x2="289.2" y2="308.90000000000003" stroke="#111" stroke-width="1.3"/>
<line x1="288.59999999999997" y1="308.3" x2="516.5" y2="308.0" stroke="#111" stroke-width="1.3"/>
<line x1="290.90" y1="308.30" x2="290.90" y2="310.90" stroke="#222" stroke-width="0.8"/>
<line x1="295.39" y1="308.29" x2="295.39" y2="309.79" stroke="#222" stroke-width="0.8"/>
<line x1="299.88" y1="308.29" x2="299.88" y2="309.79" stroke="#222" stroke-width="0.8"/>
<line x1="304.38" y1="308.28" x2="304.38" y2="309.78" stroke="#222" stroke-width="0.8"/>
<line x1="308.87" y1="308.27" x2="308.87" y2="309.77" stroke="#222" stroke-width="0.8"/>
<line x1="313.36" y1="308.27" x2="313.36" y2="310.87" stroke="#222" stroke-width="0.8"/>
<line x1="317.85" y1="308.26" x2="317.85" y2="309.76" stroke="#222" stroke-width="0.8"/>
<line x1="322.34" y1="308.26" x2="322.34" y2="309.76" stroke="#222" stroke-width="0.8"/>
<line x1="326.84" y1="308.25" x2="326.84" y2="309.75" stroke="#222" stroke-width="0.8"/>
<line x1="331.33" y1="308.24" x2="331.33" y2="309.74" stroke="#222" stroke-width="0.8"/>
<line x1="335.82" y1="308.24" x2="335.82" y2="310.84" stroke="#222" stroke-width="0.8"/>
<line x1="340.31" y1="308.23" x2="340.31" y2="309.73" stroke="#222" stroke-width="0.8"/>
<line x1="344.80" y1="308.23" x2="344.80" y2="309.73" stroke="#222" stroke-width="0.8"/>
<line x1="349.30" y1="308.22" x2="349.30" y2="309.72" stroke="#222" stroke-width="0.8"/>
<line x1="353.79" y1="308.21" x2="353.79" y2="309.71" stroke="#222" stroke-width="0.8"/>
<line x1="358.28" y1="308.21" x2="358.28" y2="310.81" stroke="#222" stroke-width="0.8"/>
<line x1="362.77" y1="308.20" x2="362.77" y2="309.70" stroke="#222" stroke-width="0.8"/>
<line x1="367.26" y1="308.20" x2="367.26" y2="309.70" stroke="#222" stroke-width="0.8"/>
<line x1="371.76" y1="308.19" x2="371.76" y2="309.69" stroke="#222" stroke-width="0.8"/>
<line x1="376.25" y1="308.19" x2="376.25" y2="309.69" stroke="#222" stroke-width="0.8"/>
<line x1="380.74" y1="308.18" x2="380.74" y2="310.78" stroke="#222" stroke-width="0.8"/>
<line x1="385.23" y1="308.17" x2="385.23" y2="309.67" stroke="#222" stroke-width="0.8"/>
<line x1="389.72" y1="308.17" x2="389.72" y2="309.67" stroke="#222" stroke-width="0.8"/>
<line x1="394.22" y1="308.16" x2="394.22" y2="309.66" stroke="#222" stroke-width="0.8"/>
<line x1="398.71" y1="308.16" x2="398.71" y2="309.66" stroke="#222" stroke-width="0.8"/>
<line x1="403.20" y1="308.15" x2="403.20" y2="310.75" stroke="#222" stroke-width="0.8"/>
<line x1="407.69" y1="308.14" x2="407.69" y2="309.64" stroke="#222" stroke-width="0.8"/>
<line x1="412.18" y1="308.14" x2="412.18" y2="309.64" stroke="#222" stroke-width="0.8"/>
<line x1="416.68" y1="308.13" x2="416.68" y2="309.63" stroke="#222" stroke-width="0.8"/>
<line x1="421.17" y1="308.13" x2="421.17" y2="309.63" stroke="#222" stroke-width="0.8"/>
<line x1="425.66" y1="308.12" x2="425.66" y2="310.72" stroke="#222" stroke-width="0.8"/>
<line x1="430.15" y1="308.11" x2="430.15" y2="309.61" stroke="#222" stroke-width="0.8"/>
<line x1="434.64" y1="308.11" x2="434.64" y2="309.61" stroke="#222" stroke-width="0.8"/>
<line x1="439.14" y1="308.10" x2="439.14" y2="309.60" stroke="#222" stroke-width="0.8"/>
<line x1="443.63" y1="308.10" x2="443.63" y2="309.60" stroke="#222" stroke-width="0.8"/>
<line x1="448.12" y1="308.09" x2="448.12" y2="310.69" stroke="#222" stroke-width="0.8"/>
<line x1="452.61" y1="308.08" x2="452.61" y2="309.58" stroke="#222" stroke-width="0.8"/>
<line x1="457.10" y1="308.08" x2="457.10" y2="309.58" stroke="#222" stroke-width="0.8"/>
<line x1="461.60" y1="308.07" x2="461.60" y2="309.57" stroke="#222" stroke-width="0.8"/>
<line x1="466.09" y1="308.07" x2="466.09" y2="309.57" stroke="#222" stroke-width="0.8"/>
<line x1="470.58" y1="308.06" x2="470.58" y2="310.66" stroke="#222" stroke-width="0.8"/>
<line x1="475.07" y1="308.05" x2="475.07" y2="309.55" stroke="#222" stroke-width="0.8"/>
<line x1="479.56" y1="308.05" x2="479.56" y2="309.55" stroke="#222" stroke-width="0.8"/>
<line x1="484.06" y1="308.04" x2="484.06" y2="309.54" stroke="#222" stroke-width="0.8"/>
<line x1="488.55" y1="308.04" x2="488.55" y2="309.54" stroke="#222" stroke-width="0.8"/>
<line x1="493.04" y1="308.03" x2="493.04" y2="310.63" stroke="#222" stroke-width="0.8"/>
<line x1="497.53" y1="308.03" x2="497.53" y2="309.53" stroke="#222" stroke-width="0.8"/>
<line x1="502.02" y1="308.02" x2="502.02" y2="309.52" stroke="#222" stroke-width="0.8"/>
<line x1="506.52" y1="308.01" x2="506.52" y2="309.51" stroke="#222" stroke-width="0.8"/>
<line x1="511.01" y1="308.01" x2="511.01" y2="309.51" stroke="#222" stroke-width="0.8"/>
<line x1="515.50" y1="308.00" x2="515.50" y2="310.60" stroke="#222" stroke-width="0.8"/>
<line x1="287.40" y1="304.60" x2="289.20" y2="304.60" stroke="#333" stroke-width="0.6"/>
<line x1="287.40" y1="293.92" x2="289.20" y2="293.92" stroke="#333" stroke-width="0.6"/>
<line x1="287.40" y1="283.24" x2="289.20" y2="283.24" stroke="#333" stroke-width="0.6"/>
<line x1="287.40" y1="272.56" x2="289.20" y2="272.56" stroke="#333" stroke-width="0.6"/>
<line x1="287.40" y1="261.88" x2="289.20" y2="261.88" stroke="#333" stroke-width="0.6"/>
<line x1="287.40" y1="251.20" x2="289.20" y2="251.20" stroke="#333" stroke-width="0.6"/>
<line x1="287.40" y1="240.52" x2="289.20" y2="240.52" stroke="#333" stroke-width="0.6"/>
<line x1="287.40" y1="229.84" x2="289.20" y2="229.84" stroke="#333" stroke-width="0.6"/>
<line x1="287.40" y1="219.16" x2="289.20" y2="219.16" stroke="#333" stroke-width="0.6"/>
<line x1="287.40" y1="208.48" x2="289.20" y2="208.48" stroke="#333" stroke-width="0.6"/>
<line x1="287.40" y1="197.80" x2="289.20" y2="197.80" stroke="#333" stroke-width="0.6"/>
<rect x="287.80" y="196.20" width="3.6" height="3.2" fill="#000"/>
</g>
<text x="20.70" y="137.30" class="t" text-anchor="middle">0</text>
<text x="20.70" y="126.76" class="t" text-anchor="middle">10</text>
<text x="20.70" y="116.22" class="t" text-anchor="middle">20</text>
<text x="20.70" y="105.68" class="t" text-anchor="middle">30</text>
<text x="20.70" y="95.14" class="t" text-anchor="middle">40</text>
<text x="20.70" y="84.60" class="t" text-anchor="middle">50</text>
<text x="20.70" y="74.06" class="t" text-anchor="middle">60</text>
<text x="20.70" y="63.52" class="t" text-anchor="middle">70</text>
<text x="20.70" y="52.98" class="t" text-anchor="middle">80</text>
<text x="20.70" y="42.44" class="t" text-anchor="middle">90</text>
<text x="20.70" y="31.90" class="t" text-anchor="middle">100</text>
<text x="30.00" y="148.60" class="t" text-anchor="middle">0</text>
<text x="52.90" y="148.60" class="t" text-anchor="middle">10</text>
<text x="75.40" y="148.60" class="t" text-anchor="middle">20</text>
<text x="98.20" y="148.60" class="t" text-anchor="middle">30</text>
<text x="120.80" y="148.60" class="t" text-anchor="middle">40</text>
<text x="143.10" y="148.60" class="t" text-anchor="middle">50</text>
<text x="165.70" y="148.60" class="t" text-anchor="middle">60</text>
<text x="188.20" y="148.60" class="t" text-anchor="middle">70</text>
<text x="210.60" y="148.60" class="t" text-anchor="middle">80</text>
<text x="233.50" y="148.60" class="t" text-anchor="middle">90</text>
<text x="255.70" y="148.60" class="t" text-anchor="middle">100</text>
<text x="15.6" y="13.4" class="L">A</text>
<text x="0" y="0" class="T R" text-anchor="middle" transform="translate(7.1 79.2) rotate(-90)">Survival rate (%)</text>
<text x="147.1" y="165.8" class="T" text-anchor="middle">Days after inoculation</text>
<text x="278.20" y="138.10" class="t" text-anchor="middle">0</text>
<text x="278.20" y="127.60" class="t" text-anchor="middle">10</text>
<text x="278.20" y="117.10" class="t" text-anchor="middle">20</text>
<text x="278.20" y="106.60" class="t" text-anchor="middle">30</text>
<text x="278.20" y="96.10" class="t" text-anchor="middle">40</text>
<text x="278.20" y="85.60" class="t" text-anchor="middle">50</text>
<text x="278.20" y="75.10" class="t" text-anchor="middle">60</text>
<text x="278.20" y="64.60" class="t" text-anchor="middle">70</text>
<text x="278.20" y="54.10" class="t" text-anchor="middle">80</text>
<text x="278.20" y="43.60" class="t" text-anchor="middle">90</text>
<text x="278.20" y="33.10" class="t" text-anchor="middle">100</text>
<text x="288.20" y="150.70" class="t" text-anchor="middle">0</text>
<text x="310.90" y="150.70" class="t" text-anchor="middle">10</text>
<text x="332.60" y="150.70" class="t" text-anchor="middle">20</text>
<text x="355.10" y="150.70" class="t" text-anchor="middle">30</text>
<text x="377.70" y="150.70" class="t" text-anchor="middle">40</text>
<text x="400.00" y="150.70" class="t" text-anchor="middle">50</text>
<text x="422.30" y="150.70" class="t" text-anchor="middle">60</text>
<text x="444.90" y="150.70" class="t" text-anchor="middle">70</text>
<text x="467.70" y="150.70" class="t" text-anchor="middle">80</text>
<text x="489.80" y="150.70" class="t" text-anchor="middle">90</text>
<text x="512.60" y="150.70" class="t" text-anchor="middle">100</text>
<text x="272.8" y="13.4" class="L">B</text>
<text x="0" y="0" class="T R" text-anchor="middle" transform="translate(265.5 83.6) rotate(-90)">Survival rate (%)</text>
<text x="403.4" y="165.4" class="T" text-anchor="middle">Days after inoculation</text>
<text x="19.00" y="307.50" class="t" text-anchor="middle">0</text>
<text x="19.00" y="296.84" class="t" text-anchor="middle">10</text>
<text x="19.00" y="286.18" class="t" text-anchor="middle">20</text>
<text x="19.00" y="275.52" class="t" text-anchor="middle">30</text>
<text x="19.00" y="264.86" class="t" text-anchor="middle">40</text>
<text x="19.00" y="254.20" class="t" text-anchor="middle">50</text>
<text x="19.00" y="243.54" class="t" text-anchor="middle">60</text>
<text x="19.00" y="232.88" class="t" text-anchor="middle">70</text>
<text x="19.00" y="222.22" class="t" text-anchor="middle">80</text>
<text x="19.00" y="211.56" class="t" text-anchor="middle">90</text>
<text x="19.00" y="200.90" class="t" text-anchor="middle">100</text>
<text x="29.20" y="318.60" class="t" text-anchor="middle">0</text>
<text x="52.30" y="318.60" class="t" text-anchor="middle">10</text>
<text x="75.10" y="318.60" class="t" text-anchor="middle">20</text>
<text x="97.80" y="318.60" class="t" text-anchor="middle">30</text>
<text x="120.40" y="318.60" class="t" text-anchor="middle">40</text>
<text x="143.00" y="318.60" class="t" text-anchor="middle">50</text>
<text x="165.80" y="318.60" class="t" text-anchor="middle">60</text>
<text x="188.10" y="318.60" class="t" text-anchor="middle">70</text>
<text x="210.60" y="318.60" class="t" text-anchor="middle">80</text>
<text x="233.00" y="318.60" class="t" text-anchor="middle">90</text>
<text x="255.40" y="318.60" class="t" text-anchor="middle">100</text>
<text x="15.5" y="176.4" class="L">C</text>
<text x="0" y="0" class="T R" text-anchor="middle" transform="translate(7.5 250.7) rotate(-90)">Survival rate (%)</text>
<text x="147.1" y="335.0" class="T" text-anchor="middle">Days after inoculation</text>
<text x="279.30" y="306.70" class="t" text-anchor="middle">0</text>
<text x="279.30" y="296.10" class="t" text-anchor="middle">10</text>
<text x="279.30" y="285.50" class="t" text-anchor="middle">20</text>
<text x="279.30" y="274.90" class="t" text-anchor="middle">30</text>
<text x="279.30" y="264.30" class="t" text-anchor="middle">40</text>
<text x="279.30" y="253.70" class="t" text-anchor="middle">50</text>
<text x="279.30" y="243.10" class="t" text-anchor="middle">60</text>
<text x="279.30" y="232.50" class="t" text-anchor="middle">70</text>
<text x="279.30" y="221.90" class="t" text-anchor="middle">80</text>
<text x="279.30" y="211.30" class="t" text-anchor="middle">90</text>
<text x="279.30" y="200.70" class="t" text-anchor="middle">100</text>
<text x="289.30" y="319.50" class="t" text-anchor="middle">0</text>
<text x="311.50" y="319.50" class="t" text-anchor="middle">10</text>
<text x="333.90" y="319.50" class="t" text-anchor="middle">20</text>
<text x="356.10" y="319.50" class="t" text-anchor="middle">30</text>
<text x="378.80" y="319.50" class="t" text-anchor="middle">40</text>
<text x="401.20" y="319.50" class="t" text-anchor="middle">50</text>
<text x="423.80" y="319.50" class="t" text-anchor="middle">60</text>
<text x="446.40" y="319.50" class="t" text-anchor="middle">70</text>
<text x="469.30" y="319.50" class="t" text-anchor="middle">80</text>
<text x="491.40" y="319.50" class="t" text-anchor="middle">90</text>
<text x="514.30" y="319.50" class="t" text-anchor="middle">100</text>
<text x="275.0" y="176.4" class="L">D</text>
<text x="0" y="0" class="T R" text-anchor="middle" transform="translate(267.4 253.2) rotate(-90)">Survival rate (%)</text>
<text x="405.3" y="335.7" class="T" text-anchor="middle">Days after inoculation</text>
</svg>
</body></html>
